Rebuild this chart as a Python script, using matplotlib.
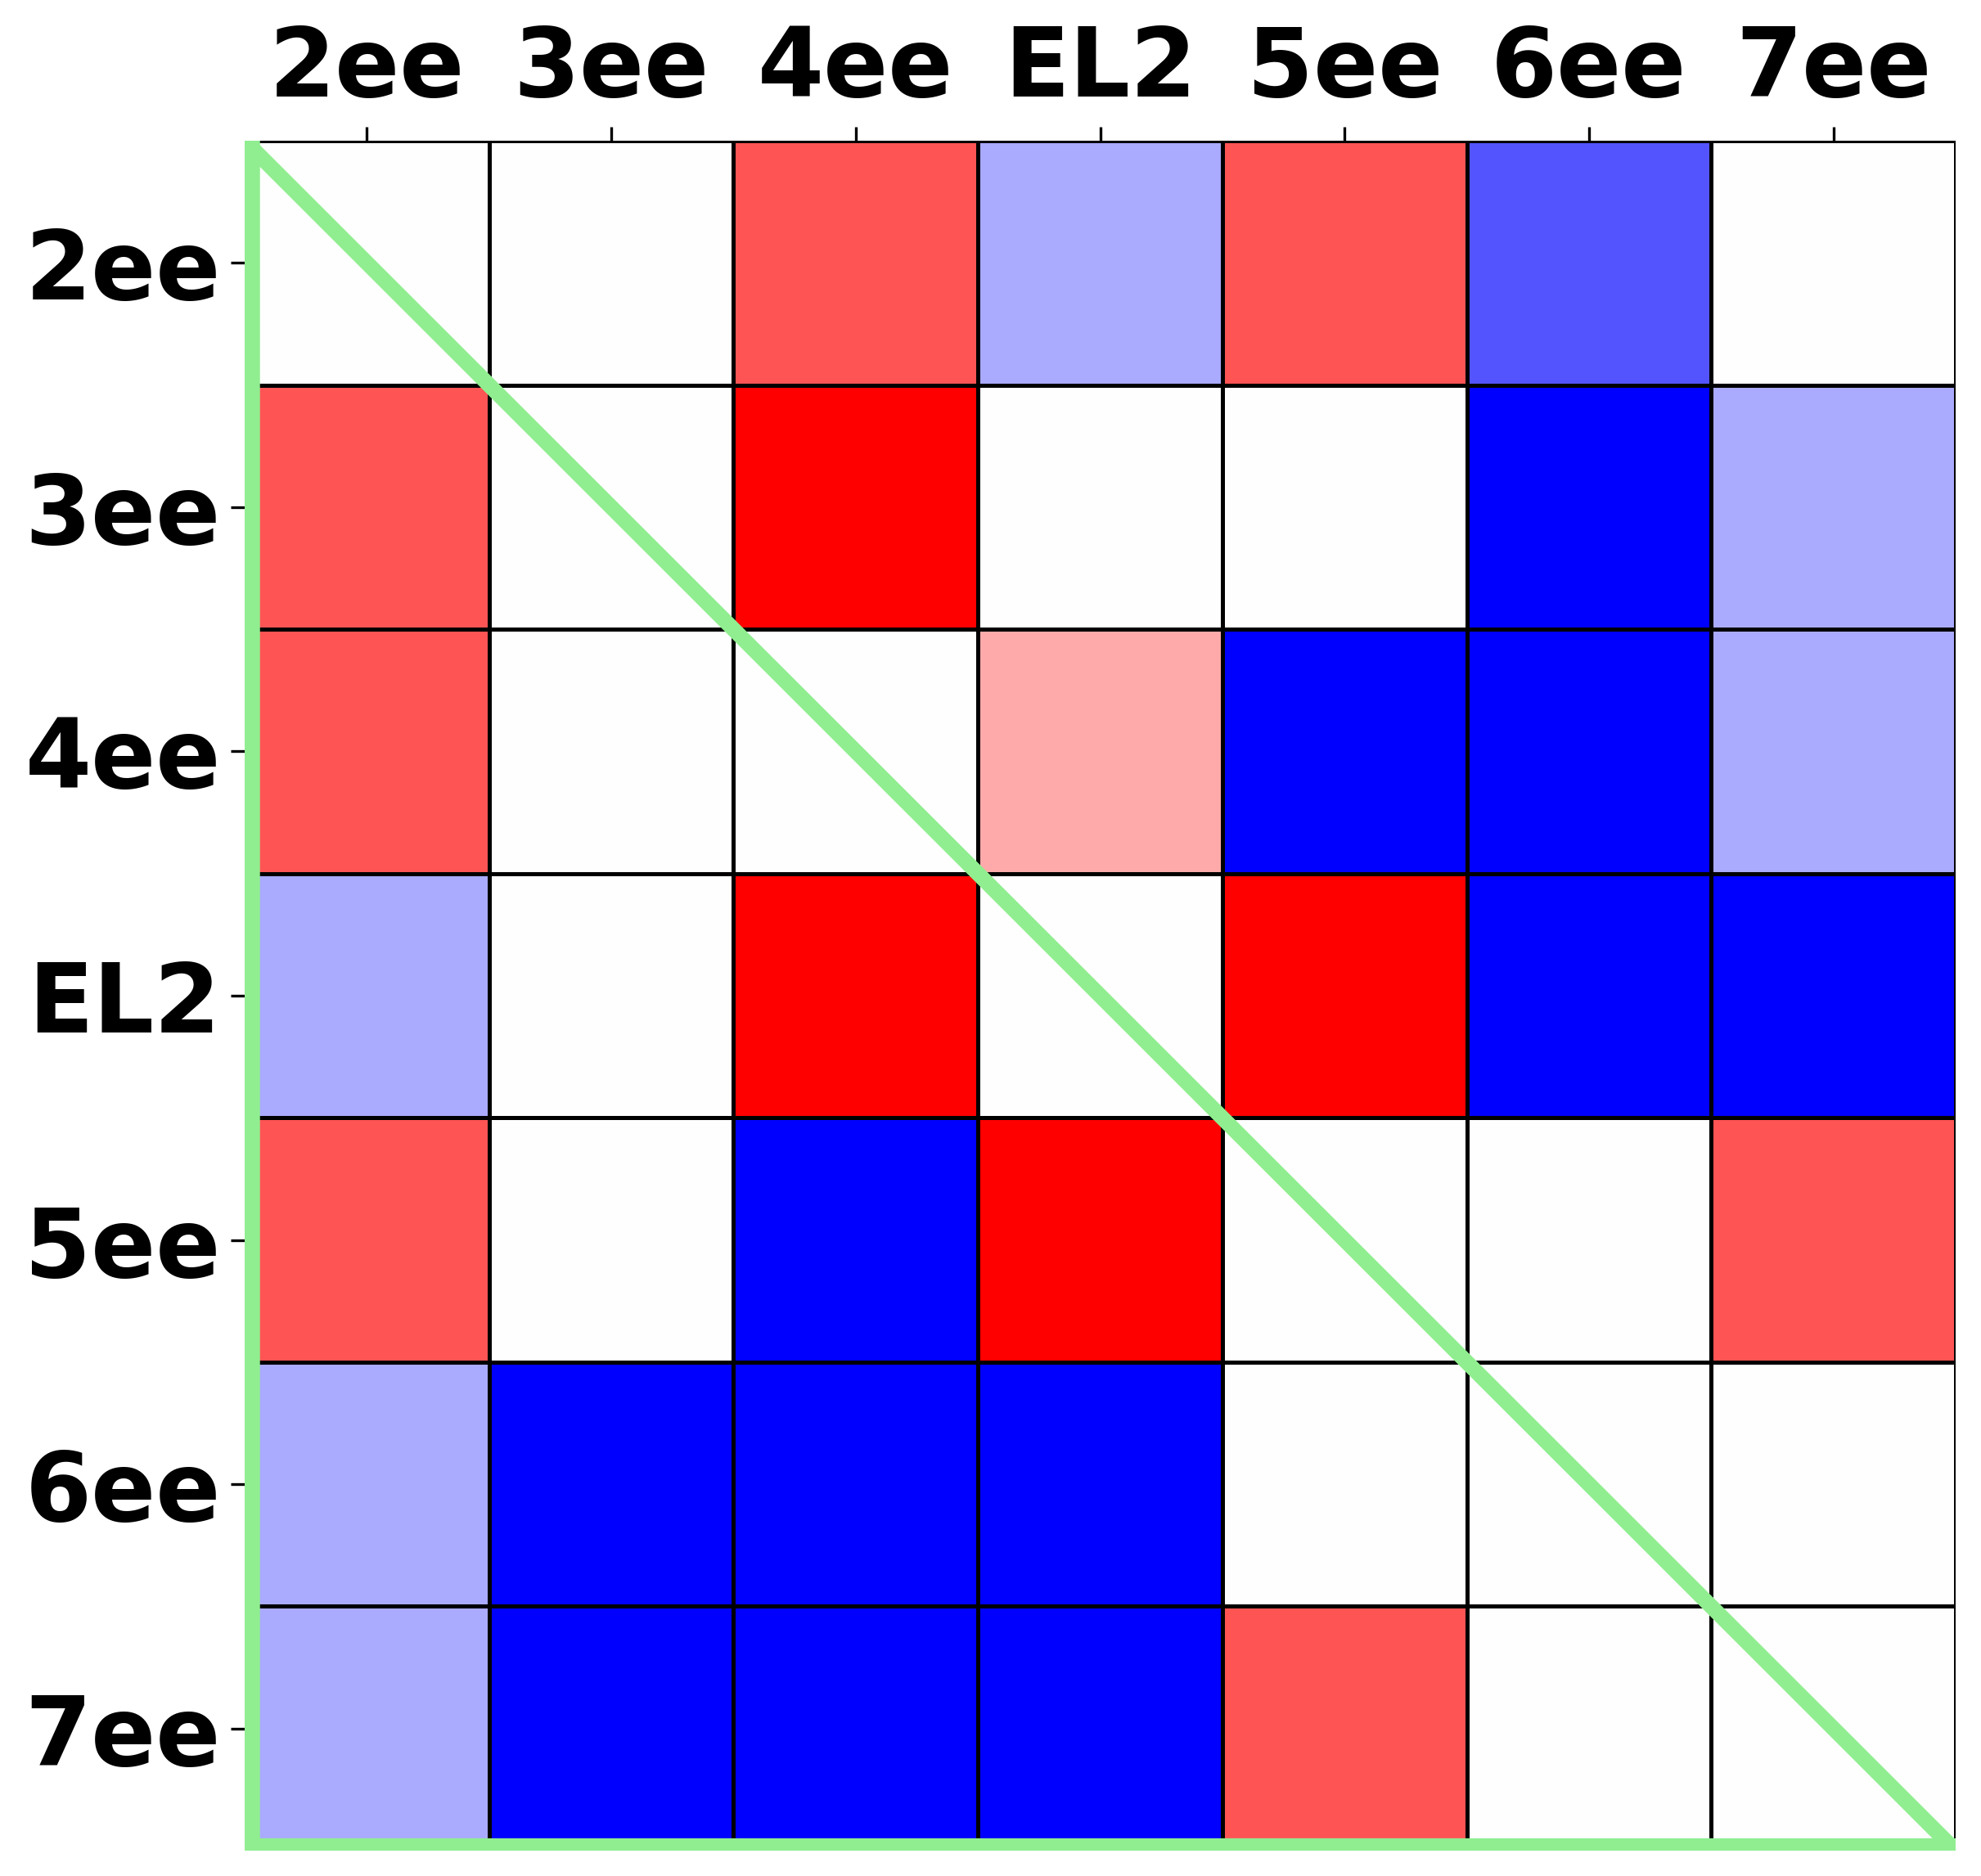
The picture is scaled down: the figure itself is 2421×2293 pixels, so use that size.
import matplotlib.pyplot as plt
import numpy as np

labels = ['2ee', '3ee', '4ee', 'EL2', '5ee', '6ee', '7ee']

# cell values, rows top to bottom (same order as labels)
values = [
    [0.0, 0.0, 0.67, -0.33, 0.67, -0.67, 0.0],
    [0.67, 0.0, 1.0, 0.0, 0.0, -1.0, -0.33],
    [0.67, 0.0, 0.0, 0.33, -1.0, -1.0, -0.33],
    [-0.33, 0.0, 1.0, 0.0, 1.0, -1.0, -1.0],
    [0.67, 0.0, -1.0, 1.0, 0.0, 0.0, 0.67],
    [-0.33, -1.0, -1.0, -1.0, 0.0, 0.0, 0.0],
    [-0.33, -1.0, -1.0, -1.0, 0.67, 0.0, 0.0],
]

data = np.array(values)
n = len(labels)

fig = plt.figure(figsize=(2421 / 300, 2293 / 300), dpi=300)
ax = fig.add_axes([0.1235, 0.0135, 0.8637, 0.9115])

ax.pcolormesh(np.arange(n + 1), np.arange(n + 1), data, cmap='bwr',
              vmin=-1, vmax=1, edgecolors='black', linewidth=0.8)
ax.set_xlim(0, n)
ax.set_ylim(n, 0)

# triangle outline
green = '#90EE90'
ax.plot([0, n], [0, n], color=green, lw=4.5)
ax.plot([0, 0], [0, n], color=green, lw=9)
ax.plot([0, n], [n, n], color=green, lw=7.5)

ticks = np.arange(n) + 0.5
ax.xaxis.tick_top()
ax.set_xticks(ticks)
ax.set_yticks(ticks)
ax.set_xticklabels(labels, fontsize=28, fontweight='bold')
ax.set_yticklabels(labels, fontsize=28, fontweight='bold')
ax.tick_params(axis='x', length=4, width=0.8, pad=3)
ax.tick_params(axis='y', length=4, width=0.8, pad=3)

for s in ax.spines.values():
    s.set_visible(False)

fig.savefig('out.png', dpi=300)
